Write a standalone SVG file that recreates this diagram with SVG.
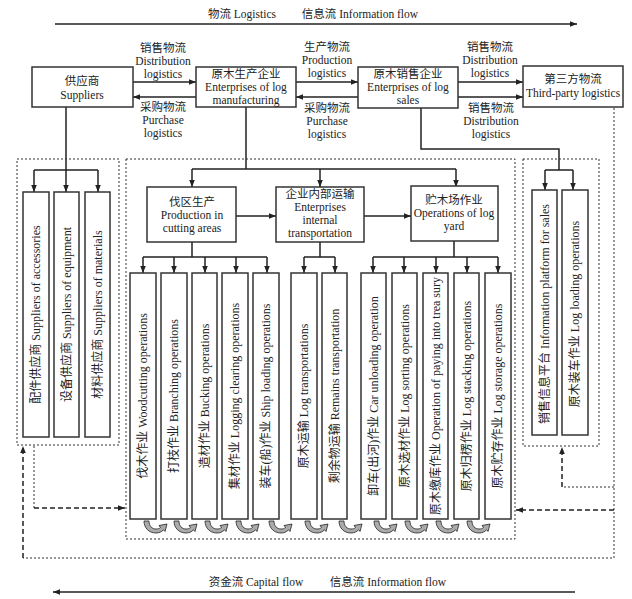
<svg xmlns="http://www.w3.org/2000/svg" width="632" height="599" viewBox="0 0 632 599">
<style>
text{font-family:"Liberation Serif","Noto Sans CJK SC",serif;font-size:11.5px;fill:#222;text-anchor:middle}
text.v{font-size:12px}
.box{fill:#fff;stroke:#333;stroke-width:1.5}
.ln{fill:none;stroke:#222;stroke-width:1.5}
.dot{fill:none;stroke:#333;stroke-width:1;stroke-dasharray:2 2}
.dash{fill:none;stroke:#222;stroke-width:1.5;stroke-dasharray:5 3}
.cu{fill:#aaa;stroke:#222;stroke-width:0.8}
</style>
<defs>
<marker id="ah" viewBox="0 0 10 10" refX="10" refY="5" markerWidth="7" markerHeight="7" orient="auto" markerUnits="userSpaceOnUse"><path d="M0,1 L10,5 L0,9 Z" fill="#222"/></marker>
<path id="cv" class="cu" d="M0,0 L5,0 C5,5 8,8 12,8 C14,8 15.5,7.5 16.5,6.5 L15,4.5 L23,3 L21,10.5 L19.5,8.8 C17.5,11 15,12 12,12 C5,12 0,7 0,0 Z"/>
</defs>
<rect width="632" height="599" fill="#fff"/>

<g id="flows">
<text x="242" y="18">物流 Logistics</text>
<text x="360" y="18">信息流 Information flow</text>
<line class="ln" x1="55" y1="24" x2="577" y2="24" marker-end="url(#ah)"/>
<text x="256" y="586">资金流 Capital flow</text>
<text x="388" y="586">信息流 Information flow</text>
<line class="ln" x1="575" y1="592" x2="53" y2="592" marker-end="url(#ah)"/>
</g>

<g id="connectors">
<line class="ln" x1="133" y1="82" x2="196" y2="82" marker-end="url(#ah)"/>
<line class="ln" x1="196" y1="97" x2="133" y2="97" marker-end="url(#ah)"/>
<line class="ln" x1="296" y1="82" x2="358" y2="82" marker-end="url(#ah)"/>
<line class="ln" x1="358" y1="97" x2="296" y2="97" marker-end="url(#ah)"/>
<line class="ln" x1="458" y1="82" x2="523" y2="82" marker-end="url(#ah)"/>
<line class="ln" x1="458" y1="97" x2="523" y2="97" marker-end="url(#ah)"/>
<text x="163" y="52">销售物流</text><text x="163" y="65">Distribution</text><text x="163" y="78">logistics</text>
<text x="163" y="111">采购物流</text><text x="163" y="124">Purchase</text><text x="163" y="137">logistics</text>
<text x="327" y="51">生产物流</text><text x="327" y="64">Production</text><text x="327" y="77">logistics</text>
<text x="327" y="112">采购物流</text><text x="327" y="125">Purchase</text><text x="327" y="138">logistics</text>
<text x="490" y="51">销售物流</text><text x="490" y="64">Distribution</text><text x="490" y="77">logistics</text>
<text x="491" y="112">销售物流</text><text x="491" y="125">Distribution</text><text x="491" y="138">logistics</text>

<!-- suppliers branch -->
<path class="ln" d="M66,107 V170 M34,170 H98"/>
<line class="ln" x1="34" y1="170" x2="34" y2="192" marker-end="url(#ah)"/>
<line class="ln" x1="66" y1="170" x2="66" y2="192" marker-end="url(#ah)"/>
<line class="ln" x1="98" y1="170" x2="98" y2="192" marker-end="url(#ah)"/>

<!-- manufacturing branch -->
<path class="ln" d="M246,107 V169 M192,169 H456"/>
<line class="ln" x1="192" y1="169" x2="192" y2="187" marker-end="url(#ah)"/>
<line class="ln" x1="320" y1="169" x2="320" y2="187" marker-end="url(#ah)"/>
<line class="ln" x1="456" y1="169" x2="456" y2="187" marker-end="url(#ah)"/>
<line class="ln" x1="236" y1="216" x2="276" y2="216" marker-end="url(#ah)"/>
<line class="ln" x1="364" y1="216" x2="411" y2="216" marker-end="url(#ah)"/>

<!-- third level -->
<path class="ln" d="M192,242 V257 M143,257 H267"/>
<line class="ln" x1="143" y1="257" x2="143" y2="273" marker-end="url(#ah)"/>
<line class="ln" x1="174" y1="257" x2="174" y2="273" marker-end="url(#ah)"/>
<line class="ln" x1="205" y1="257" x2="205" y2="273" marker-end="url(#ah)"/>
<line class="ln" x1="236" y1="257" x2="236" y2="273" marker-end="url(#ah)"/>
<line class="ln" x1="267" y1="257" x2="267" y2="273" marker-end="url(#ah)"/>
<path class="ln" d="M320,242 V257 M304,257 H335"/>
<line class="ln" x1="304" y1="257" x2="304" y2="273" marker-end="url(#ah)"/>
<line class="ln" x1="335" y1="257" x2="335" y2="273" marker-end="url(#ah)"/>
<path class="ln" d="M454,241 V257 M373,257 H498"/>
<line class="ln" x1="373" y1="257" x2="373" y2="273" marker-end="url(#ah)"/>
<line class="ln" x1="404" y1="257" x2="404" y2="273" marker-end="url(#ah)"/>
<line class="ln" x1="436" y1="257" x2="436" y2="273" marker-end="url(#ah)"/>
<line class="ln" x1="467" y1="257" x2="467" y2="273" marker-end="url(#ah)"/>
<line class="ln" x1="498" y1="257" x2="498" y2="273" marker-end="url(#ah)"/>

<!-- sales branch -->
<path class="ln" d="M421,108 V149 H559 V170 M545,170 H573"/>
<line class="ln" x1="545" y1="170" x2="545" y2="190" marker-end="url(#ah)"/>
<line class="ln" x1="573" y1="170" x2="573" y2="190" marker-end="url(#ah)"/>

<!-- feedback lines -->
<path class="dot" d="M614,108 V558 H23"/>
<line class="dash" x1="23" y1="558" x2="23" y2="446" marker-end="url(#ah)"/>
<path class="dot" d="M34,446 V508"/>
<line class="dash" x1="34" y1="508" x2="125" y2="508" marker-end="url(#ah)"/>
<line class="dash" x1="614" y1="510" x2="516" y2="510" marker-end="url(#ah)"/>
<path class="dot" d="M614,487 H562"/>
<line class="dash" x1="562" y1="487" x2="562" y2="447" marker-end="url(#ah)"/>

<!-- curved arrows -->
<use href="#cv" x="144" y="521"/>
<use href="#cv" x="174" y="521"/>
<use href="#cv" x="205" y="521"/>
<use href="#cv" x="236" y="521"/>
<use href="#cv" x="269" y="521"/>
<use href="#cv" x="305" y="521"/>
<use href="#cv" x="339" y="521"/>
<use href="#cv" x="374" y="521"/>
<use href="#cv" x="405" y="521"/>
<use href="#cv" x="436" y="521"/>
<use href="#cv" x="467" y="521"/>
</g>

<g id="groups">
<rect class="dot" x="17" y="159" width="102" height="286"/>
<rect class="dot" x="126" y="159" width="389" height="380"/>
<rect class="dot" x="523" y="159" width="76" height="287"/>
</g>

<g id="suppliers"><rect class="box" x="32" y="67" width="101" height="40"/><text x="82" y="85">供应商</text><text x="82" y="99">Suppliers</text></g>
<g id="manufacturing"><rect class="box" x="196" y="67" width="100" height="40"/><text x="246" y="78">原木生产企业</text><text x="246" y="91">Enterprises of log</text><text x="246" y="104">manufacturing</text></g>
<g id="sales"><rect class="box" x="358" y="67" width="100" height="41"/><text x="408" y="78">原木销售企业</text><text x="408" y="91">Enterprises of log</text><text x="408" y="104">sales</text></g>
<g id="thirdparty"><rect class="box" x="523" y="66" width="100" height="41"/><text x="573" y="83">第三方物流</text><text x="573" y="97">Third-party logistics</text></g>

<g id="cutting"><rect class="box" x="147" y="187" width="89" height="55"/><text x="192" y="206">伐区生产</text><text x="192" y="219">Production in</text><text x="192" y="232">cutting areas</text></g>
<g id="transport"><rect class="box" x="276" y="187" width="88" height="55"/><text x="320" y="198">企业内部运输</text><text x="320" y="211">Enterprises</text><text x="320" y="224">internal</text><text x="320" y="237">transportation</text></g>
<g id="yard"><rect class="box" x="411" y="186" width="87" height="55"/><text x="454" y="204">贮木场作业</text><text x="454" y="217">Operations of log</text><text x="454" y="230">yard</text></g>

<g id="s1"><rect class="box" x="23" y="192" width="26" height="245"/><text class="v" transform="translate(40,314.5) rotate(-90)">配件供应商 Suppliers of accessories</text></g>
<g id="s2"><rect class="box" x="54" y="192" width="25" height="245"/><text class="v" transform="translate(70.5,314.5) rotate(-90)">设备供应商 Suppliers of equipment</text></g>
<g id="s3"><rect class="box" x="85" y="192" width="25" height="245"/><text class="v" transform="translate(101.5,314.5) rotate(-90)">材料供应商 Suppliers of materials</text></g>

<g id="o1"><rect class="box" x="130" y="273" width="26" height="246"/><text class="v" transform="translate(147,396) rotate(-90)">伐木作业 Woodcutting operations</text></g>
<g id="o2"><rect class="box" x="161" y="273" width="26" height="246"/><text class="v" transform="translate(178,396) rotate(-90)">打枝作业 Branching operations</text></g>
<g id="o3"><rect class="box" x="192" y="273" width="25" height="246"/><text class="v" transform="translate(208.5,396) rotate(-90)">造材作业 Bucking operations</text></g>
<g id="o4"><rect class="box" x="222" y="273" width="26" height="246"/><text class="v" transform="translate(239,396) rotate(-90)">集材作业 Logging clearing operations</text></g>
<g id="o5"><rect class="box" x="253" y="273" width="26" height="246"/><text class="v" transform="translate(270,396) rotate(-90)">装车(船)作业 Ship loading operations</text></g>
<g id="o6"><rect class="box" x="291" y="273" width="26" height="246"/><text class="v" transform="translate(308,396) rotate(-90)">原木运输 Log transportations</text></g>
<g id="o7"><rect class="box" x="322" y="273" width="25" height="246"/><text class="v" transform="translate(338.5,396) rotate(-90)">剩余物运输 Remains transportation</text></g>
<g id="o8"><rect class="box" x="361" y="273" width="25" height="246"/><text class="v" transform="translate(377.5,396) rotate(-90)">卸车(出河)作业 Car unloading operation</text></g>
<g id="o9"><rect class="box" x="392" y="273" width="25" height="246"/><text class="v" transform="translate(408.5,396) rotate(-90)">原木选材作业 Log sorting operations</text></g>
<g id="o10"><rect class="box" x="423" y="273" width="25" height="246"/><text class="v" transform="translate(439.5,396) rotate(-90)">原木缴库作业 Operation of paying into trea sury</text></g>
<g id="o11"><rect class="box" x="454" y="273" width="25" height="246"/><text class="v" transform="translate(470.5,396) rotate(-90)">原木归楞作业 Log stacking operations</text></g>
<g id="o12"><rect class="box" x="485" y="273" width="26" height="246"/><text class="v" transform="translate(502,396) rotate(-90)">原木贮存作业 Log storage operations</text></g>

<g id="r1"><rect class="box" x="532" y="190" width="25" height="245"/><text class="v" transform="translate(548.5,314) rotate(-90)">销售信息平台 Information platform for sales</text></g>
<g id="r2"><rect class="box" x="562" y="190" width="26" height="245"/><text class="v" transform="translate(579,314) rotate(-90)">原木装车作业 Log loading operations</text></g>
</svg>
